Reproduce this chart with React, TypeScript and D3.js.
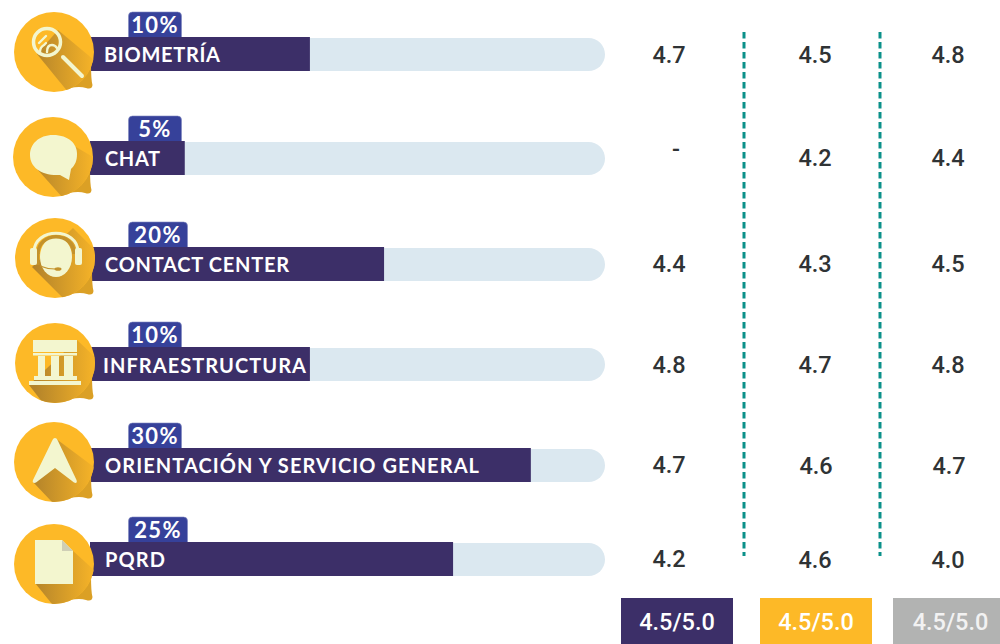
import React from "react";
import * as d3 from "d3";

const categories = ["BIOMETRÍA", "CHAT", "CONTACT CENTER", "INFRAESTRUCTURA", "ORIENTACIÓN Y SERVICIO GENERAL", "PQRD"];
const weights = ["10%", "5%", "20%", "10%", "30%", "25%"];
const fillShares = [0.427, 0.184, 0.571, 0.427, 0.856, 0.705];
const column1 = ["4.7", "-", "4.4", "4.8", "4.7", "4.2"];
const column2 = ["4.5", "4.2", "4.3", "4.7", "4.6", "4.6"];
const column3 = ["4.8", "4.4", "4.5", "4.8", "4.7", "4.0"];
const totals = ["4.5/5.0", "4.5/5.0", "4.5/5.0"];

// layout
const barTops = [37, 141, 247, 347, 448, 542];
const iconCentres: [number, number][] = [[54, 52], [53, 157], [55, 258], [55, 363], [54, 462], [54, 564]];
const badgeWidths = [53, 53, 59, 53, 53, 59];
const labelX = [104, 105, 105, 103, 105, 105];
const labelW = [116, 55, 184, 203, 374, 60];
const labelDy = [25, 25, 25, 26, 25, 25];
const colX = [669, 815, 948];
const colY = [
  [54.5, 149, 264, 364.5, 465, 558.5],
  [54.5, 158, 264, 364.5, 466, 559.5],
  [54.5, 158, 264, 364.5, 466, 559.5],
];
const colDx = [[0, 7, 0, 0, 0, 0], [0, 0, 0, 0, 1, 0], [0, 0, 0, 0, 1, 0]];
const footX = [[621, 112], [760, 112], [893, 107]];
const footFill = ["#3c2f68", "#fdb927", "#b2b3b2"];
const dashX = [744, 880];

const x = d3.scaleLinear().domain([0, 1]).range([90, 605]);
const LABEL = "Lato, sans-serif";
const NUM = "Roboto, sans-serif";
const CREAM = "#f3f6cf";

function Glyph({ i }: { i: number }) {
  if (i === 0)
    return (
      <g>
        <circle cx={-7} cy={-10} r={13.5} fill="none" stroke={CREAM} strokeWidth={3.5} />
        <line x1={9} y1={5} x2={28} y2={24} stroke={CREAM} strokeWidth={4} strokeLinecap="round" />
        <path d="M-15 -9 L-8 -16 M-14 0 Q-14 -5 -10 -7 L-8 -9 M-7 0 Q-7 -7 -2 -7 Q1 -7 3 -4" fill="none" stroke={CREAM} strokeWidth={2.4} strokeLinecap="round" />
      </g>
    );
  if (i === 1)
    return <path d="M0 -22 C16 -22 24 -13 24 -3 C24 4 22 8 18 12 L16 23 L7 18 C-12 19 -23 10 -23 -2 C-23 -13 -14 -22 0 -22 Z" fill={CREAM} />;
  if (i === 2)
    return (
      <g>
        <ellipse cx={1} cy={-1} rx={16} ry={20} fill={CREAM} />
        <path d="M-17 -4 C-17 -27 19 -27 19 -4" fill="none" stroke="#c3922c" strokeWidth={3.5} />
        <path d="M-21 -6 C-21 -31 23 -31 23 -6" fill="none" stroke={CREAM} strokeWidth={3} />
        <path d="M-17 -5 L-17 7" stroke="#c3922c" strokeWidth={3} />
        <rect x={-25} y={-10} width={7} height={17} rx={2} fill={CREAM} />
        <rect x={20} y={-10} width={7} height={17} rx={2} fill={CREAM} />
        <path d="M-15 8 Q-8 11 0 11" fill="none" stroke="#c3922c" strokeWidth={1.2} />
        <ellipse cx={3} cy={11} rx={3.5} ry={1.8} fill="#c3922c" />
      </g>
    );
  if (i === 3)
    return (
      <g fill={CREAM}>
        <rect x={-22} y={-23} width={44} height={12} />
        <rect x={-22} y={-10} width={44} height={2.5} />
        <rect x={-17} y={-7} width={7} height={20} />
        <rect x={-4} y={-7} width={8} height={20} />
        <rect x={9} y={-7} width={9} height={20} />
        <rect x={-21} y={13} width={43} height={4} />
        <rect x={-26} y={18} width={52} height={4} />
      </g>
    );
  if (i === 4)
    return <path d="M1 -24 C2.5 -24 3 -23 4 -21 L22.5 18 C23.5 21 22 21.5 20 20.5 L1 6 L-18 20.5 C-20 21.5 -22 21 -21 18 L-2 -21 C-1 -23 -0.5 -24 1 -24 Z" fill={CREAM} />;
  return (
    <g>
      <path d="M-19 -24 L8 -24 L19 -13 L19 20 L-19 20 Z" fill={CREAM} />
      <path d="M8 -24 L19 -13 L8 -13 Z" fill="#cfcfb6" />
    </g>
  );
}

const shadowPaths = [
  "M-17 2 L14 40 L40 40 L40 8 L4 -22 Z",
  "M-15 13 L9 40 L40 40 L40 0 L23 -10 Z",
  "M-23 9 L8 40 L40 40 L40 -8 L18 -30 Z",
  "M-26 22 L-12 40 L40 40 L40 -6 L22 -23 Z",
  "M-21 20 L-2 40 L40 40 L40 5 L1 -24 Z",
  "M-19 19 L-2 40 L40 40 L40 6 L18 -14 Z",
];

export default function App() {
  return (
    <svg width={1000} height={644} viewBox="0 0 1000 644" style={{ position: "fixed", left: 0, top: 0, background: "#fff" }}>
      <defs>
        <linearGradient id="sh" gradientUnits="userSpaceOnUse" x1="-20" x2="38" y1="0" y2="0">
          <stop offset="0" stopColor="#b4842a" />
          <stop offset="1" stopColor="#f4b228" />
        </linearGradient>
        <clipPath id="disc"><circle r={40} /></clipPath>
      </defs>

      {categories.map((c, i) => {
        const top = barTops[i];
        const [cx, cy] = iconCentres[i];
        return (
          <g key={c}>
            <rect x={128.5} y={top - 25} width={badgeWidths[i]} height={30} rx={4} fill="#36419a" stroke="#7f88c0" strokeWidth={0.6} />
            <text x={128.5 + badgeWidths[i] / 2} y={top - 4} textAnchor="middle" fontFamily={LABEL} fontWeight={700} fontSize={22} letterSpacing={1.3} fill="#fff">{weights[i]}</text>
            <rect x={90} y={top + 1} width={515} height={33} rx={16.5} fill="#dbe8f0" />
            <rect x={90} y={top} width={x(fillShares[i]) - 90} height={34} fill="#3c2f68" />
            <g transform={`translate(${cx},${cy})`}>
              <path d="M20 30 L37 12 Q37 28 38.5 33 Q38 38 32 36 Q26 34 16 36 Z" fill="#dba025" />
              <circle r={40} fill="#fdb927" />
              <g clipPath="url(#disc)"><path d={shadowPaths[i]} fill="url(#sh)" /></g>
              <Glyph i={i} />
            </g>
            <text x={labelX[i]} y={top + labelDy[i]} fontFamily={LABEL} fontWeight={700} fontSize={20} textLength={labelW[i]} lengthAdjust="spacing" fill="#fff">{c}</text>
            {[column1, column2, column3].map((col, k) => (
              <text key={k} x={colX[k] + colDx[k][i]} y={colY[k][i]} dy="0.36em" textAnchor="middle" fontFamily={NUM} fontWeight={500} fontSize={23.5} fill="#2f3335">{col[i]}</text>
            ))}
          </g>
        );
      })}

      {dashX.map((dx) => (
        <line key={dx} x1={dx} x2={dx} y1={32} y2={556} stroke="#0b918a" strokeWidth={3} strokeDasharray="6.5 3.5" />
      ))}

      {totals.map((t, i) => (
        <g key={i}>
          <rect x={footX[i][0]} y={598} width={footX[i][1]} height={46} fill={footFill[i]} />
          <text x={footX[i][0] + footX[i][1] / 2 + (i === 2 ? 4 : 0)} y={621.5} dy="0.36em" textAnchor="middle" fontFamily={NUM} fontWeight={500} fontSize={23.5} fill={i === 2 ? "#f2f2f2" : "#fff"}>{t}</text>
        </g>
      ))}
    </svg>
  );
}
